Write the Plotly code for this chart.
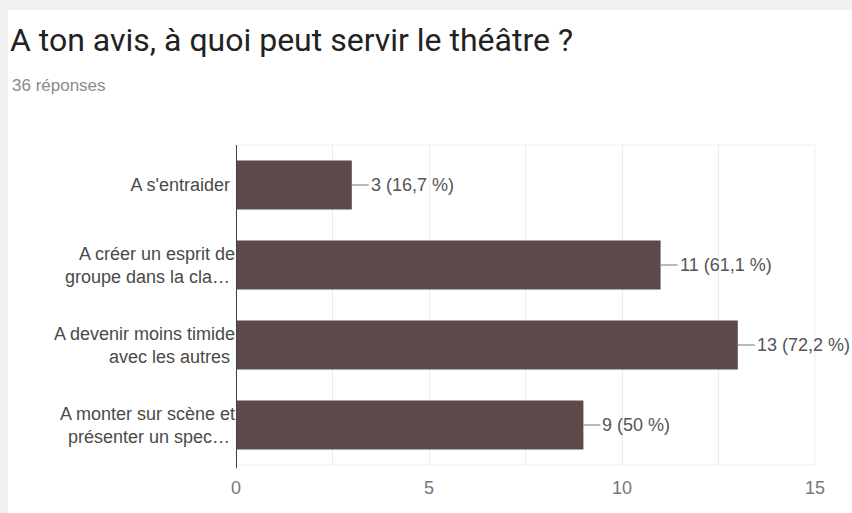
import plotly.graph_objects as go

categories = ["A s'entraider", "A créer un esprit de<br>groupe dans la cla…",
              "A devenir moins timide<br>avec les autres", "A monter sur scène et<br>présenter un spec…"]
values = [3, 11, 13, 9]
labels = ["3 (16,7 %)", "11 (61,1 %)", "13 (72,2 %)", "9 (50 %)"]
title = "A ton avis, à quoi peut servir le théâtre ?"
subtitle = "36 réponses"
tick_vals = [0, 5, 10, 15]

W, H = 852, 513
L, R, T, B = 236, 37, 145, 48
pw, ph = W - L - R, H - T - B

def px_x(x):
    return (x - L) / pw

def px_y(y):
    return (H - B - y) / ph

FONT = "Liberation Sans, Arial"
TFONT = "Roboto, Arial"

fig = go.Figure()
fig.add_trace(go.Bar(
    x=values, y=categories, orientation="h",
    marker=dict(color="#5b4a49", line=dict(width=0)),
    hoverinfo="skip",
))

for v, c, t in zip(values, categories, labels):
    fig.add_annotation(x=v, y=c, xref="x", yref="y", text=t,
                       showarrow=True, arrowhead=0, arrowwidth=1, arrowcolor="#777",
                       ax=17, ay=0, xanchor="left", yanchor="middle",
                       font=dict(family=FONT, size=18, color="#555"))

fig.add_annotation(xref="paper", yref="paper", x=px_x(8), y=px_y(40), text=title,
                   showarrow=False, xanchor="left", yanchor="middle",
                   font=dict(family=TFONT, size=32, color="#222"))
fig.add_annotation(xref="paper", yref="paper", x=px_x(10), y=px_y(85), text=subtitle,
                   showarrow=False, xanchor="left", yanchor="middle",
                   font=dict(family=FONT, size=17, color="#8a8a8a"))

fig.add_shape(type="rect", xref="paper", yref="paper", layer="below",
              x0=px_x(8), x1=px_x(900), y0=px_y(600), y1=px_y(10),
              fillcolor="white", line=dict(width=0))

fig.update_layout(
    width=W, height=H,
    margin=dict(l=L, r=R, t=T, b=B),
    paper_bgcolor="#f1f1f1", plot_bgcolor="white",
    showlegend=False, bargap=0.39,
    font=dict(family=FONT, size=18, color="#444"),
    xaxis=dict(range=[0, 15], tickvals=tick_vals, showgrid=False, zeroline=False,
               showline=False, ticks="", tickfont=dict(size=18, color="#777"),
               ticklabelstandoff=10,
               fixedrange=True, automargin=False,
               minor=dict(dtick=2.5, showgrid=True, gridcolor="#ececec")),
    yaxis=dict(autorange="reversed", showgrid=False, zeroline=False, ticks="",
               showline=False, tickfont=dict(size=18, color="#4a4a4a"), ticksuffix=" ",
               fixedrange=True, automargin=False),
)

fig.add_shape(type="line", xref="x", yref="paper", x0=0, x1=0, y0=-0.01, y1=1,
              line=dict(color="#444", width=2))
fig.add_shape(type="rect", xref="paper", yref="paper", x0=0, x1=1, y0=0, y1=1,
              line=dict(color="#eeeeee", width=1), layer="below")

fig.write_html("out.html", config={"displayModeBar": False},
               post_script="document.body.style.margin='0';")
